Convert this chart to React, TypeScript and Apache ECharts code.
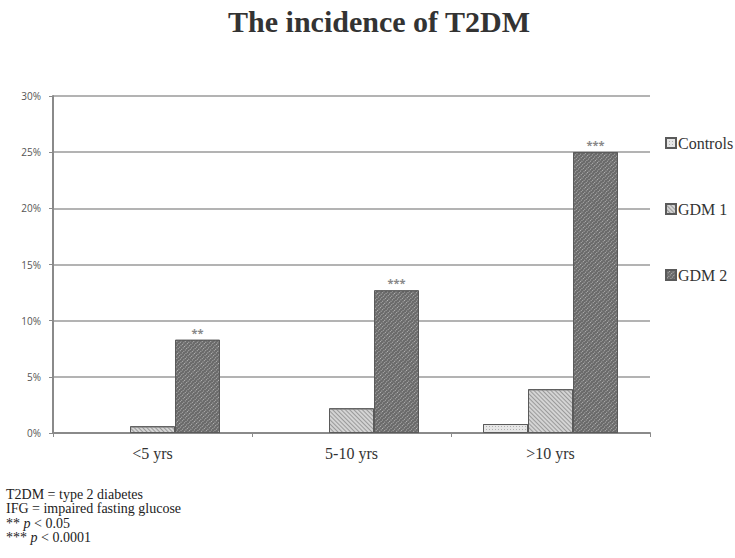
import React, { useEffect, useRef } from "react";
import * as echarts from "echarts";

const categories = ["<5 yrs", "5-10 yrs", ">10 yrs"];
const seriesNames = ["Controls", "GDM 1", "GDM 2"];
const controls = [0, 0, 0.8];
const gdm1 = [0.6, 2.2, 3.9];
const gdm2 = [8.3, 12.7, 25.0];
const gdm2Marks = ["**", "***", "***"];
const yTicks = [0, 5, 10, 15, 20, 25, 30];

const serif = "'Liberation Serif', 'DejaVu Serif', serif";
const sans = "'Open Sans', 'Noto Sans', sans-serif";

const toData = (arr: number[]) =>
  arr.map((v) => (v === 0 ? { value: v, itemStyle: { borderWidth: 0 } } : v));

export default function App() {
  const ref = useRef<HTMLDivElement>(null);
  useEffect(() => {
    if (!ref.current) return;
    const chart = echarts.init(ref.current, undefined, { renderer: "svg" });
    const border = { borderColor: "#5a5a5a", borderWidth: 1 };
    chart.setOption({
      animation: false,
      backgroundColor: "#ffffff",
      aria: { enabled: true, decal: { show: true } },
      title: {
        text: "The incidence of T2DM",
        left: 374,
        textAlign: "center",
        top: 1,
        textStyle: { fontFamily: serif, fontSize: 30, fontWeight: "bold", color: "#333" },
      },
      legend: {
        orient: "vertical",
        left: 660,
        top: 130,
        itemGap: 50,
        itemWidth: 10,
        itemHeight: 10,
        icon: "rect",
        textStyle: { fontFamily: serif, fontSize: 16, color: "#333", padding: [0, 0, 0, -3] },
        data: seriesNames,
      },
      grid: { left: 53, right: 85, top: 96, bottom: 125, containLabel: false },
      xAxis: {
        type: "category",
        data: categories,
        axisLine: { lineStyle: { color: "#8a8a8a", width: 2 } },
        axisTick: { show: true, length: 4, lineStyle: { color: "#8a8a8a" }, alignWithLabel: false },
        axisLabel: { fontFamily: serif, fontSize: 16, color: "#333", margin: 12 },
      },
      yAxis: {
        type: "value",
        min: 0,
        max: 30,
        interval: 5,
        axisLine: { show: true, lineStyle: { color: "#8a8a8a", width: 2 } },
        axisTick: { show: true, length: 4, lineStyle: { color: "#8a8a8a" } },
        splitLine: { lineStyle: { color: "#9a9a9a", width: 1.5 } },
        axisLabel: {
          fontFamily: sans,
          fontSize: 10,
          color: "#555",
          margin: 12,
          formatter: (v: number) => (yTicks.includes(v) ? v + "%" : ""),
        },
      },
      series: [
        {
          name: seriesNames[0],
          type: "bar",
          data: toData(controls),
          barWidth: 45,
          barGap: "0%",
          itemStyle: {
            color: "#e6e6e6",
            ...border,
            decal: { symbol: "rect", color: "#b0b0b0", dashArrayX: [1, 2], dashArrayY: [1, 2], symbolSize: 1, rotation: 0 },
          },
        },
        {
          name: seriesNames[1],
          type: "bar",
          data: toData(gdm1),
          barWidth: 45,
          barGap: "0%",
          itemStyle: {
            color: "#d4d4d4",
            ...border,
            decal: { symbol: "rect", color: "#9a9a9a", dashArrayX: [1, 0], dashArrayY: [1, 2], symbolSize: 1, rotation: Math.PI / 4 },
          },
        },
        {
          name: seriesNames[2],
          type: "bar",
          data: toData(gdm2),
          barWidth: 45,
          barGap: "0%",
          itemStyle: {
            color: "#6a6a6a",
            ...border,
            decal: { symbol: "rect", color: "#b8b8b8", dashArrayX: [1, 2], dashArrayY: [1, 1], symbolSize: 1, rotation: Math.PI / 4 },
          },
          label: {
            show: true,
            position: "top",
            distance: 2,
            color: "#888",
            fontFamily: sans,
            fontSize: 11,
            fontWeight: "bold",
            formatter: (p: any) => gdm2Marks[p.dataIndex],
          },
        },
      ],
      graphic: [
        {
          type: "text",
          left: 6,
          top: 487,
          style: {
            text: "T2DM = type 2 diabetes\nIFG = impaired fasting glucose\n** {i|p} < 0.05\n*** {i|p} < 0.0001",
            font: `14px ${serif}`,
            fill: "#222",
            lineHeight: 14.5,
            rich: {
              i: { fontStyle: "italic", fontFamily: serif, fontSize: 14, fill: "#222", lineHeight: 14.5 },
            },
          },
        },
      ],
    });
    return () => chart.dispose();
  }, []);
  return <div ref={ref} style={{ position: "fixed", left: 0, top: 0, width: 735, height: 558 }} />;
}
